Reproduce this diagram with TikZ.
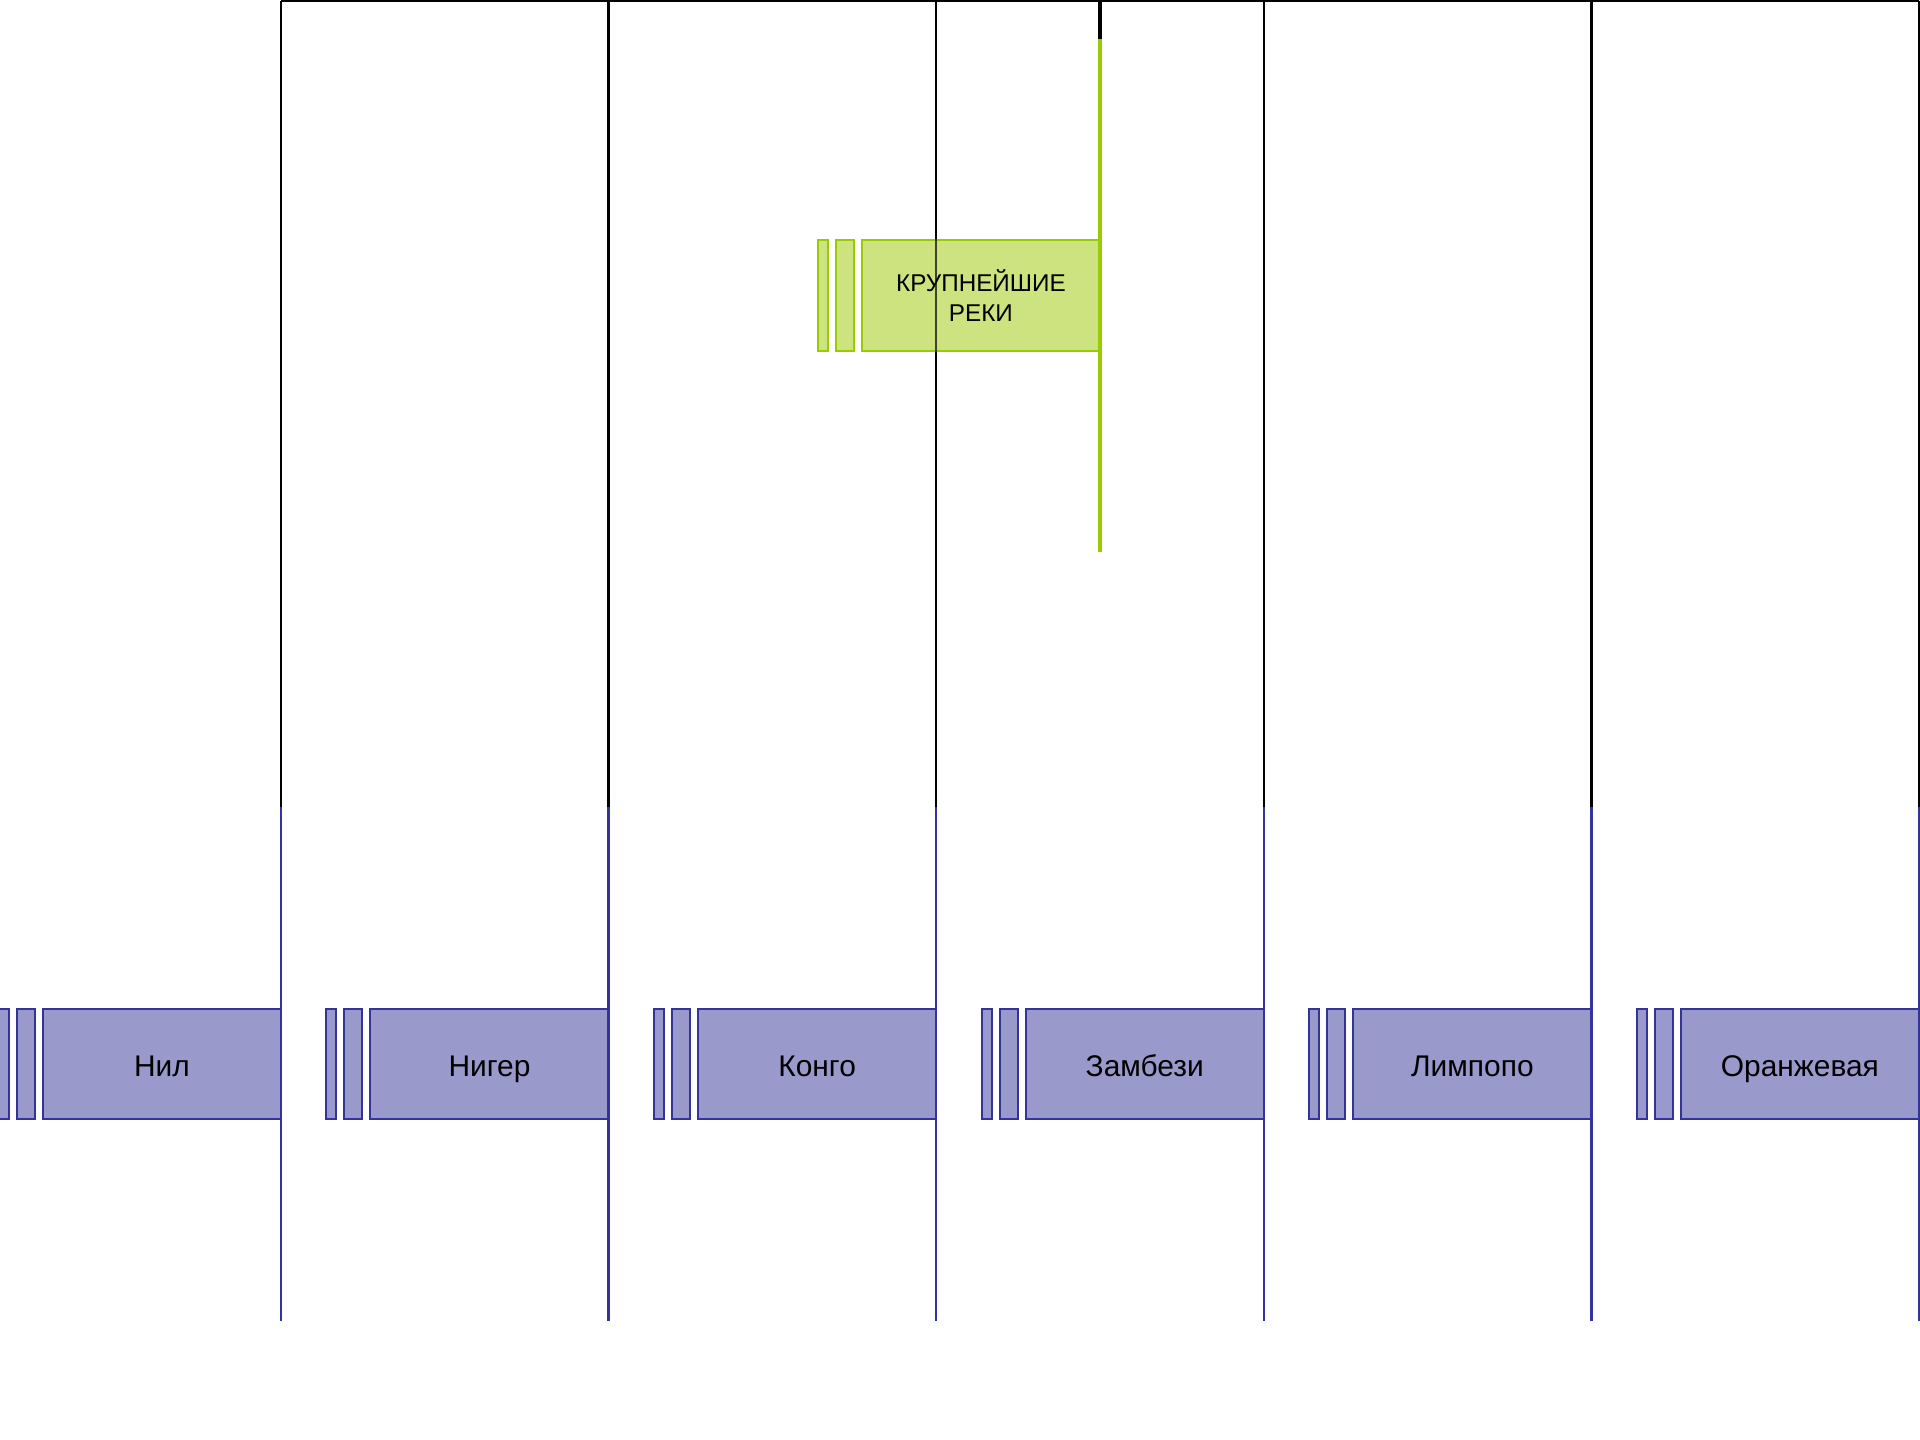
\documentclass[tikz,border=0pt]{standalone}
\usepackage{fontspec}
\setmainfont{Liberation Sans}
\usetikzlibrary{positioning}

\definecolor{riverfill}{HTML}{9999CC}
\definecolor{riverline}{HTML}{333399}
\definecolor{titlefill}{HTML}{CDE37F}
\definecolor{titleline}{HTML}{99CC00}

\begin{document}
\begin{tikzpicture}[x = 0.01cm, y = -0.01cm, font = \fontsize{8.5}{10}\selectfont,
	box/.style = {line width = 0.55pt, inner sep = 0pt, outer sep = 0pt,
		minimum width = 2.38cm, minimum height = 1.1cm, align = center},
	riverbox/.style = {box, draw = riverline, fill = riverfill, text height = 0.72em, text depth = 0pt},
	riverbar/.style = {riverbox, minimum width = #1},
	titlebox/.style = {box, draw = titleline, fill = titlefill, minimum height = 1.11cm,
		font = \fontsize{6.9}{8.3}\selectfont},
	titlebar/.style = {titlebox, minimum width = #1},
	lane/.style = {line width = 0.65pt},
]

	% Page
	
	\useasboundingbox (0, 0) rectangle (1920, 1440);
	
	% Rivers
	
	\foreach \name/\river [count = \i from 0] in {nil/Нил, niger/Нигер, kongo/Конго, zambezi/Замбези, limpopo/Лимпопо, orange/Оранжевая}
	{
		\pgfmathsetmacro{\r}{281 + 327.6 * \i}
		
		\coordinate (\name-top) at (\r, 1);
		\coordinate (\name-mid) at (\r, 807);
		\coordinate (\name-end) at (\r, 1321);
		
		% Boxes
		
		\node (\name) [riverbox, anchor = east] at (\r, 1064) {\river};
		\node (\name-bar2) [riverbar = 0.18cm, left = 0.08cm of \name] {};
		\node (\name-bar1) [riverbar = 0.1cm, left = 0.08cm of \name-bar2] {};
		
		% Lanes
		
		\draw [lane] (\name-top) -- (\name-mid);
		\draw [lane, riverline] (\name-mid) -- (\name-end);
	}
	
	% Top line
	
	\draw [lane] (nil-top) -- (orange-top);
	
	% Title
	
	\coordinate (title-top) at (1100, 1);
	\coordinate (title-mid) at (1100, 39);
	\coordinate (title-end) at (1100, 552);
	
	\node (title) [titlebox, anchor = east] at (1100, 295.5) {КРУПНЕЙШИЕ\\РЕКИ};
	\node (title-bar2) [titlebar = 0.18cm, left = 0.08cm of title] {};
	\node (title-bar1) [titlebar = 0.1cm, left = 0.08cm of title-bar2] {};
	
	\draw [lane, opacity = 0.7] (kongo-top) -- (kongo-mid);
	\draw [line width = 0.9pt] (title-top) -- (title-mid);
	\draw [line width = 0.9pt, titleline] (title-mid) -- (title-end);

\end{tikzpicture}
\end{document}
